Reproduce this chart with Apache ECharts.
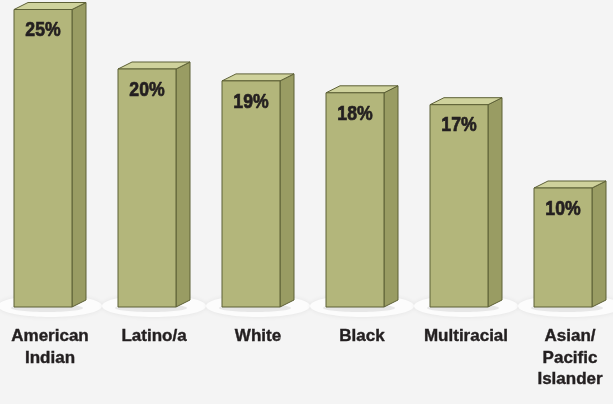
<!doctype html>
<html lang="en">
<head>
    <meta charset="utf-8">
    <title>Bars by group</title>
    <style>
        html, body { margin: 0; padding: 0; background: #f4f4f4; }
        #main { width: 613px; height: 404px; }
    </style>
</head>
<body>
<div id="main"></div>
<script src="https://cdn.jsdelivr.net/npm/echarts@6/dist/echarts.min.js"></script>
<script>
    var categories = ['American\nIndian', 'Latino/a', 'White', 'Black', 'Multiracial', 'Asian/\nPacific\nIslander'];
    var values = [25, 20, 19, 18, 17, 10];

    var myChart = echarts.init(document.getElementById('main'));

    var FRONT = 58;   // front face width
    var DX = 14;      // depth offset x
    var DY = 7;       // depth offset y

    // 3D-ish bar: floor glow, side, top, front, value text
    function renderBar(params, api) {
        var idx = api.value(0);
        var base = api.coord([idx, 0]);
        var top = api.coord([idx, api.value(1)]);
        var left = base[0] - (FRONT + DX) / 2;
        var right = left + FRONT;
        var y0 = base[1], y1 = top[1];
        var stroke = '#5d6036';
        return {
            type: 'group',
            children: [
                {
                    type: 'ellipse',
                    shape: { cx: base[0], cy: y0 - 1, rx: 52, ry: 11 },
                    style: {
                        fill: '#fcfcfc',
                        shadowBlur: 5,
                        shadowColor: 'rgba(0,0,0,0.07)'
                    },
                    z2: 0
                },
                {
                    type: 'ellipse',
                    shape: { cx: left + FRONT / 2 + 4, cy: y0 + 1, rx: 36, ry: 4 },
                    style: {
                        fill: 'rgba(0,0,0,0.08)',
                        shadowBlur: 6,
                        shadowColor: 'rgba(0,0,0,0.15)'
                    },
                    z2: 1
                },
                {
                    type: 'polygon',
                    shape: { points: [[right, y1], [right + DX, y1 - DY], [right + DX, y0 - DY], [right, y0]] },
                    style: { fill: '#999c63', stroke: stroke, lineWidth: 1 },
                    z2: 2
                },
                {
                    type: 'polygon',
                    shape: { points: [[left, y1], [left + DX, y1 - DY], [right + DX, y1 - DY], [right, y1]] },
                    style: { fill: '#cfd29c', stroke: stroke, lineWidth: 1 },
                    z2: 2
                },
                {
                    type: 'rect',
                    shape: { x: left, y: y1, width: FRONT, height: y0 - y1 },
                    style: { fill: '#b3b67b', stroke: stroke, lineWidth: 1 },
                    z2: 3
                },
                {
                    type: 'text',
                    x: left + FRONT / 2,
                    y: y1 + 21,
                    scaleX: 0.84,
                    style: {
                        text: api.value(1) + '%',
                        fill: '#231f20',
                        stroke: '#231f20',
                        lineWidth: 0.7,
                        font: 'bold 21px "Liberation Sans", Arial, sans-serif',
                        align: 'center',
                        verticalAlign: 'middle'
                    },
                    z2: 4
                }
            ]
        };
    }

    var option = {
        backgroundColor: '#f4f4f4',
        animation: false,
        grid: {
            left: -2, top: 9.5, width: 624, height: 297.5,
            outerBoundsMode: 'none'
        },
        xAxis: {
            type: 'category',
            data: categories,
            axisLine: { show: false },
            axisTick: { show: false },
            axisLabel: {
                margin: 19,
                interval: 0,
                color: '#231f20',
                textBorderColor: '#231f20',
                textBorderWidth: 0.4,
                fontSize: 17,
                fontWeight: 'bold',
                lineHeight: 21.5,
                fontFamily: '"Liberation Sans", Arial, sans-serif'
            }
        },
        yAxis: {
            type: 'value',
            min: 0,
            max: 25,
            show: false,
            splitLine: { show: false }
        },
        series: [{
            type: 'custom',
            renderItem: renderBar,
            encode: { x: 0, y: 1 },
            data: values.map(function (v, i) { return [i, v]; })
        }]
    };

    myChart.setOption(option);
</script>
</body>
</html>
